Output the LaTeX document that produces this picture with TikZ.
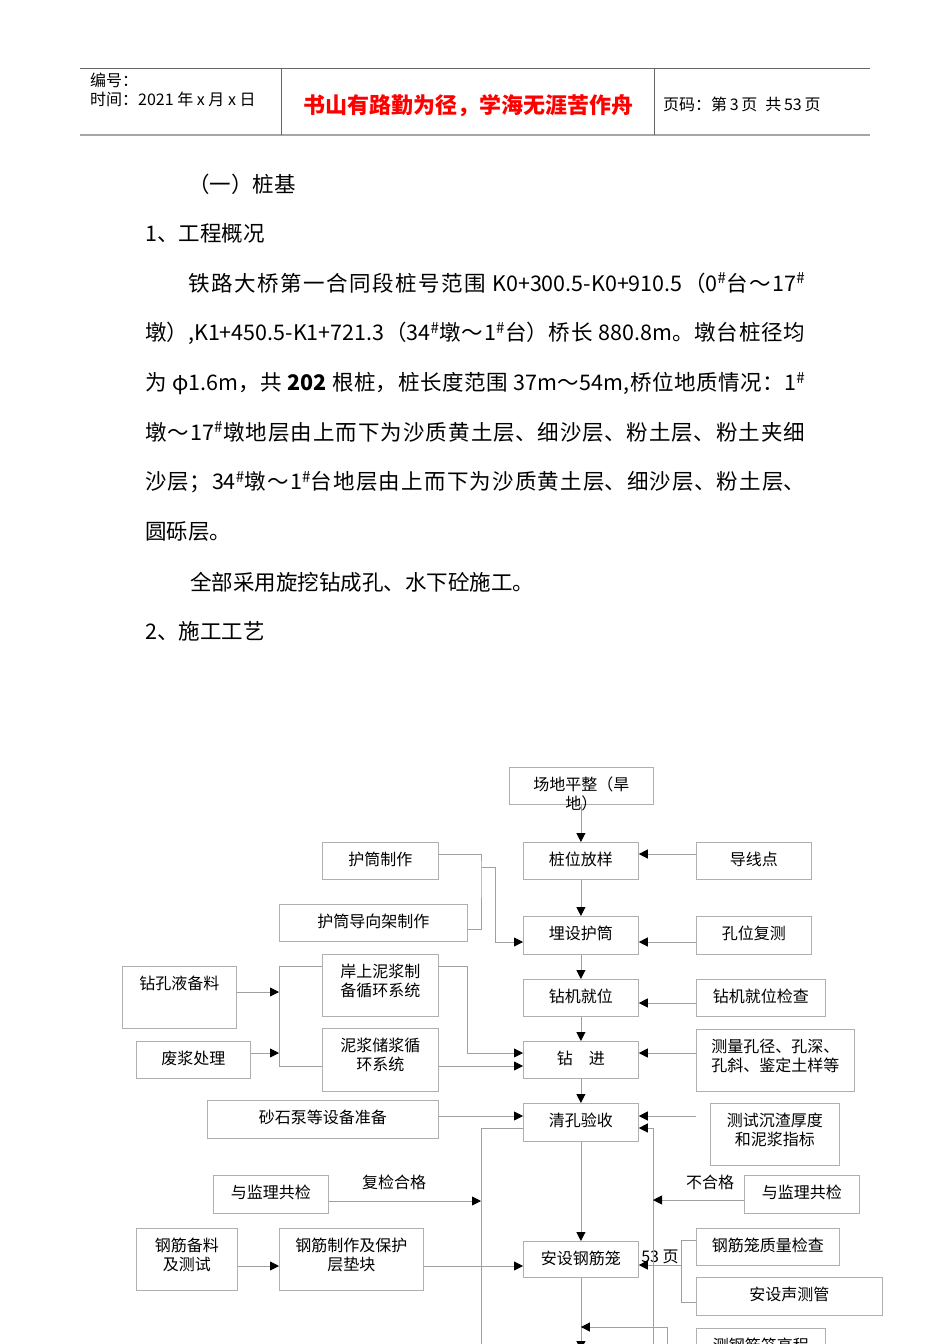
\documentclass[tikz,border=0pt]{standalone}
\usepackage{fontspec}
\setmainfont{Noto Sans CJK SC}
\usetikzlibrary{arrows.meta,positioning}
\XeTeXlinebreaklocale "zh"
\XeTeXlinebreakskip=0pt plus 2pt
\definecolor{boxgray}{RGB}{175,175,175}
\definecolor{linegray}{RGB}{160,160,160}

\begin{document}
\begin{tikzpicture}[x=1pt, y=-1pt,
  box/.style={draw=boxgray, line width=0.8pt, anchor=north west, inner sep=0pt},
  txt/.style={font=\fontsize{16}{19}\selectfont, align=center, anchor=north, inner sep=0pt, yshift=-10pt},
  lbl/.style={font=\fontsize{16}{19}\selectfont, inner sep=0pt},
  conn/.style={draw=linegray, line width=0.8pt},
  arr/.style={conn, -{Triangle[length=9pt, width=9pt, color=black]}},
  hd/.style={font=\fontsize{16}{19}\selectfont, inner sep=0pt, anchor=base west},
  body/.style={font=\fontsize{21.5}{49.7}\selectfont, inner sep=0pt, anchor=base west},
  para/.style={body, anchor=north west, text width=660pt, align=justify}
]
  \useasboundingbox (0,0) rectangle (950,1344);
  \fill[white] (0,0) rectangle (950,1344);
  \clip (0,0) rectangle (950,1344);

  % page header
  \draw[gray!80!black, line width=0.8pt] (80,68) -- (870,68);
  \draw[gray!70, line width=2pt] (80,135) -- (870,135);
  \draw[gray!80!black, line width=0.8pt] (281,68) -- (281,135) (654,68) -- (654,135);
  \node[hd] (bh) at (90,86.5) {编号：};
  \node[hd] (sj) at (90,105.5) {时间：2021\ 年\ x\ 月\ x\ 日};
  \node[font=\fontsize{22}{26}\selectfont\bfseries, text=red, inner sep=0pt, anchor=base] (my) at (468,113) {书山有路勤为径，学海无涯苦作舟};
  \node[hd] (ym) at (663,110) {页码：第\,3\,页\enspace 共\,53\,页};

  % text
  \node[body] (t1) at (188,192) {（一）桩基};
  \node[body] (t2) at (145,241) {1、工程概况};
  \node[para] (gk) at (145,272.5) {\noindent\hspace*{43pt}铁路大桥第一合同段桩号范围 K0+300.5-K0+910.5（0\textsuperscript{\#}台～17\textsuperscript{\#}\linebreak
墩）,K1+450.5-K1+721.3（34\textsuperscript{\#}墩～1\textsuperscript{\#}台）桥长 880.8m。墩台桩径均\linebreak
为 φ1.6m，共 \textbf{202} 根桩，桩长度范围 37m～54m,桥位地质情况：1\textsuperscript{\#}\linebreak
墩～17\textsuperscript{\#}墩地层由上而下为沙质黄土层、细沙层、粉土层、粉土夹细\linebreak
沙层；34\textsuperscript{\#}墩～1\textsuperscript{\#}台地层由上而下为沙质黄土层、细沙层、粉土层、\linebreak
圆砾层。};
  \node[body] (t3) at (190,590) {全部采用旋挖钻成孔、水下砼施工。};
  \node[body] (t4) at (145,639) {2、施工工艺};

  % flow chart boxes
  \node[box, minimum width=144pt, minimum height=37pt] (cdpz) at (509,767) {};
  \node[txt] (cdpz-t) at (cdpz.north) {场地平整（旱\\地）};
  \node[box, minimum width=115pt, minimum height=37pt] (zwfy) at (523,842) {};
  \node[txt] (zwfy-t) at (zwfy.north) {桩位放样};
  \node[box, minimum width=115pt, minimum height=37pt] (dxd) at (696,842) {};
  \node[txt] (dxd-t) at (dxd.north) {导线点};
  \node[box, minimum width=116pt, minimum height=37pt] (htzz) at (322,842) {};
  \node[txt] (htzz-t) at (htzz.north) {护筒制作};
  \node[box, minimum width=188pt, minimum height=37pt] (hdxj) at (279,904) {};
  \node[txt] (hdxj-t) at (hdxj.north) {护筒导向架制作};
  \node[box, minimum width=115pt, minimum height=38pt] (mshd) at (523,916) {};
  \node[txt] (mshd-t) at (mshd.north) {埋设护筒};
  \node[box, minimum width=115pt, minimum height=38pt] (kwfc) at (696,916) {};
  \node[txt] (kwfc-t) at (kwfc.north) {孔位复测};
  \node[box, minimum width=114pt, minimum height=62pt] (zkyb) at (122,966) {};
  \node[txt] (zkyb-t) at (zkyb.north) {钻孔液备料};
  \node[box, minimum width=116pt, minimum height=62pt] (asnj) at (322,954) {};
  \node[txt] (asnj-t) at (asnj.north) {岸上泥浆制\\备循环系统};
  \node[box, minimum width=115pt, minimum height=37pt] (zjjw) at (523,979) {};
  \node[txt] (zjjw-t) at (zjjw.north) {钻机就位};
  \node[box, minimum width=129pt, minimum height=37pt] (zjjc) at (696,979) {};
  \node[txt] (zjjc-t) at (zjjc.north) {钻机就位检查};
  \node[box, minimum width=114pt, minimum height=37pt] (fjcl) at (136,1041) {};
  \node[txt] (fjcl-t) at (fjcl.north) {废浆处理};
  \node[box, minimum width=116pt, minimum height=63pt] (njcj) at (322,1028) {};
  \node[txt] (njcj-t) at (njcj.north) {泥浆储浆循\\环系统};
  \node[box, minimum width=115pt, minimum height=37pt] (zj) at (523,1041) {};
  \node[txt] (zj-t) at (zj.north) {钻\quad 进};
  \node[box, minimum width=158pt, minimum height=62pt] (clyc) at (696,1029) {};
  \node[txt] (clyc-t) at (clyc.north) {测量孔径、孔深、\\孔斜、鉴定土样等};
  \node[box, minimum width=231pt, minimum height=38pt] (ssbz) at (207,1100) {};
  \node[txt] (ssbz-t) at (ssbz.north) {砂石泵等设备准备};
  \node[box, minimum width=115pt, minimum height=38pt] (qkys) at (523,1103) {};
  \node[txt] (qkys-t) at (qkys.north) {清孔验收};
  \node[box, minimum width=129pt, minimum height=62pt] (csczh) at (710,1103) {};
  \node[txt] (csczh-t) at (csczh.north) {测试沉渣厚度\\和泥浆指标};
  \node[box, minimum width=115pt, minimum height=38pt] (jlgjl) at (213,1175) {};
  \node[txt] (jlgjl-t) at (jlgjl.north) {与监理共检};
  \node[box, minimum width=115pt, minimum height=38pt] (jlgjr) at (744,1175) {};
  \node[txt] (jlgjr-t) at (jlgjr.north) {与监理共检};
  \node[box, minimum width=101pt, minimum height=62pt] (gjbl) at (136,1228) {};
  \node[txt] (gjbl-t) at (gjbl.north) {钢筋备料\\及测试};
  \node[box, minimum width=144pt, minimum height=62pt] (gjzz) at (279,1228) {};
  \node[txt] (gjzz-t) at (gjzz.north) {钢筋制作及保护\\层垫块};
  \node[box, minimum width=115pt, minimum height=36pt] (asgl) at (523,1241) {};
  \node[txt] (asgl-t) at (asgl.north) {安设钢筋笼};
  \node[box, minimum width=143pt, minimum height=37pt] (gljc) at (696,1228) {};
  \node[txt] (gljc-t) at (gljc.north) {钢筋笼质量检查};
  \node[box, minimum width=186pt, minimum height=38pt] (assc) at (696,1277) {};
  \node[txt] (assc-t) at (assc.north) {安设声测管};
  \node[box, minimum width=129pt, minimum height=38pt] (cgcg) at (696,1328) {};
  \node[txt] (cgcg-t) at (cgcg.north) {测钢筋笼高程};

  \node[lbl] (fjhg) at (394,1182) {复检合格};
  \node[lbl] (bhg) at (710,1182) {不合格};
  \node[lbl] (ym53) at (660,1257) {53 页};

  \coordinate (hj) at (481,867);
  \coordinate (bk) at (279,966);
  \coordinate (cz) at (696,1116);
  \coordinate (lb) at (481,1356);
  \coordinate (rb) at (653,1356);
  \coordinate (lk) at (681,1240);
  \coordinate (gc) at (667,1356);
  \coordinate (dn) at (581,1350);

  % main column
  \draw[arr] (zwfy.north |- cdpz.south) -- (zwfy.north);
  \draw[arr] (zwfy) -- (mshd);
  \draw[arr] (mshd) -- (zjjw);
  \draw[arr] (zjjw) -- (zj);
  \draw[arr] (zj) -- (qkys);
  \draw[arr] (qkys) -- (asgl);
  \draw[arr] (asgl) -- (asgl.south |- dn);

  % right side
  \draw[arr] (dxd.west |- 0,854) -- (zwfy.east |- 0,854);
  \draw[arr] (kwfc.west |- 0,942) -- (mshd.east |- 0,942);
  \draw[arr] (zjjc.west |- 0,1003) -- (zjjw.east |- 0,1003);
  \draw[arr] (clyc.west |- 0,1053) -- (zj.east |- 0,1053);
  \draw[arr] (cz) -- (qkys.east |- cz);

  % left side
  \draw[conn] (htzz.east |- 0,854) -| (hj) |- (hdxj.east |- 0,929);
  \draw[arr] (hj) -- ++(14,0) |- (mshd.west |- 0,942);
  \draw[arr] (zkyb.east |- 0,992) -- (bk |- 0,992);
  \draw[arr] (fjcl.east |- 0,1053) -- (bk |- 0,1053);
  \draw[conn] (asnj.west |- bk) -- (bk) -- (bk |- 0,1066) -- (njcj.west |- 0,1066);
  \draw[arr] (asnj.east |- 0,966) -| (hdxj.east |- 0,1053) -- (zj.west |- 0,1053);
  \draw[arr] (njcj.east |- 0,1066) -- (zj.west |- 0,1066);
  \draw[arr] (ssbz.east |- 0,1116) -- (qkys.west |- 0,1116);

  % lower part
  \draw[conn] (qkys.west |- 0,1128) -| (lb);
  \draw[arr] (jlgjl.east |- 0,1201) -- (lb |- 0,1201);
  \draw[arr] (rb) |- (qkys.east |- 0,1128);
  \draw[arr] (jlgjr.west |- 0,1200) -- (rb |- 0,1200);
  \draw[arr] (gjbl.east |- 0,1266) -- (gjzz.west |- 0,1266);
  \draw[arr] (gjzz.east |- 0,1266) -- (asgl.west |- 0,1266);
  \draw[conn] (gljc.west |- lk) -- (lk) -- (lk |- 0,1302) -- (assc.west |- 0,1302);
  \draw[arr] (lk |- 0,1265) -- (asgl.east |- 0,1265);
  \draw[arr] (gc) |- (asgl.south |- 0,1327);
\end{tikzpicture}
\end{document}
